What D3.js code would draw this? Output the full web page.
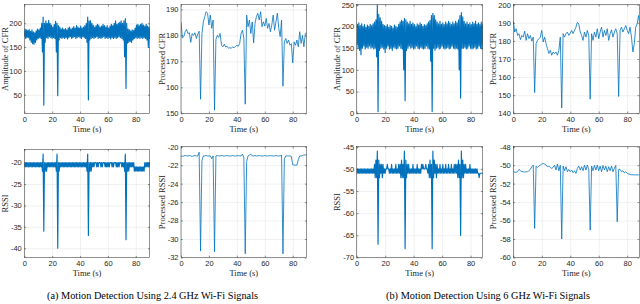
<!DOCTYPE html>
<html>
<head>
<meta charset="utf-8">
<script src="https://d3js.org/d3.v7.min.js"></script>
<style>
  body { margin: 0; background: #fff; }
  svg { display: block; font-family: "Liberation Serif", "Times New Roman", serif; }
  .tick text { font-size: 7.5px; fill: #262626; }
  .tick line { stroke: #262626; stroke-width: 0.5; }
  .grid line { stroke: #e2e2e2; stroke-width: 0.5; }
  .grid path, .axis path { stroke: none; }
</style>
</head>
<body>
<svg id="chart" width="640" height="304"></svg>
<script>
// one sample per second, 0..90 s
var time = d3.range(0, 91);
var timeTicks = [0, 20, 40, 60, 80];

// ---- (a) 2.4 GHz ----
// raw CFR is a dense band, read as lower / upper edge for every second
var cfr24Lo = [172,168,170,170,165,160,157,156,160,165,
               168,170,168,140,28,160,170,168,172,170,
               168,170,168,140,48,165,170,168,170,168,
               170,167,170,172,168,170,172,168,170,172,
               170,168,172,170,168,160,39,165,168,170,
               168,170,172,168,170,168,170,172,168,170,
               168,170,167,170,168,170,168,170,172,170,
               168,165,130,63,158,160,162,160,165,168,
               170,168,170,168,170,168,170,168,165,150,
               168];
var cfr24Hi = [188,186,185,187,183,186,182,180,184,188,
               186,190,200,213,200,205,200,206,200,196,
               192,198,204,200,195,192,188,190,187,189,
               186,190,192,188,190,193,190,195,192,190,
               194,190,192,195,200,213,205,205,200,196,
               192,195,198,196,192,194,198,195,192,195,
               190,194,198,195,200,205,198,200,202,205,
               200,205,210,200,188,186,184,186,185,190,
               196,198,195,198,200,196,194,198,194,192,
               190];
var cfr24Proc = [185,179,179.5,181.4,182.3,180.7,181,177.3,180.7,180,
                 181,178.8,180.5,181.6,155.4,180.7,185.2,187.2,189.1,188.5,
                 184,187.8,182.7,185.9,151.2,178.4,180,179.2,180.7,176.2,
                 175.6,176.6,175.5,175.8,175,175.3,175,175.6,175.2,175.8,
                 176.2,175.8,176.9,180.7,182,178.8,153.5,187.8,183.3,185.9,
                 180.7,185.2,177.1,184.6,187.2,188.5,185.9,189.1,183.3,185.2,
                 183.6,186.5,182.7,184.6,181.4,184,187.8,182,185.2,188.5,
                 182.7,179.5,185.9,160.4,177.5,178.8,176.9,178.2,176.2,176.8,
                 169.4,177.5,176.2,178.2,175.6,181.4,176.9,180,175.6,180.7,
                 181];
var rssi24Lo = [-21,-21,-21,-21,-21,-21,-21,-21,-21,-21,
                -21,-21,-21,-22,-36,-22,-22,-21,-21,-21,
                -21,-21,-21,-22,-40,-22,-21,-21,-21,-21,
                -21,-21,-21,-21,-21,-21,-21,-21,-21,-21,
                -21,-21,-21,-21,-21,-22,-37,-22,-22,-21,
                -21,-20,-21,-21,-20,-21,-21,-20,-21,-21,
                -21,-21,-20,-21,-21,-20,-21,-21,-21,-20,
                -21,-21,-22,-38,-22,-22,-21,-21,-21,-22,
                -22,-22,-22,-22,-22,-22,-22,-21,-21,-21,
                -21];
var rssi24Hi = [-20,-20,-20,-20,-20,-20,-20,-20,-20,-20,
                -20,-20,-20,-18,-20,-20,-20,-20,-20,-20,
                -20,-20,-20,-18,-20,-20,-20,-20,-20,-20,
                -20,-20,-20,-20,-20,-20,-20,-20,-20,-20,
                -20,-20,-20,-20,-20,-18,-20,-20,-20,-20,
                -20,-20,-20,-20,-20,-20,-20,-20,-20,-20,
                -20,-20,-20,-20,-20,-20,-20,-20,-20,-20,
                -20,-20,-18,-20,-20,-20,-20,-20,-20,-21,
                -21,-21,-21,-21,-21,-21,-20,-20,-20,-20,
                -20];
var rssi24Proc = [-21,-21.05,-21,-20.95,-21,-21,-20.95,-21,-21.05,-21,
                  -20.95,-21,-21,-20.6,-31.3,-21.5,-21,-21,-20.95,-21,
                  -21,-21,-21.3,-21,-31.4,-21,-20.95,-21,-21,-20.95,
                  -21,-21,-21,-20.95,-21,-21,-21,-20.95,-21,-21,
                  -21,-20.95,-21,-21,-20.8,-21.2,-31.6,-21.6,-21,-20.9,
                  -20.8,-21,-21,-20.95,-21,-21,-20.95,-21,-21,-21,
                  -20.95,-21,-21,-21,-20.95,-21,-21,-21,-20.95,-21,
                  -21,-21,-20.9,-31.6,-21.3,-21,-21,-21,-21,-21.05,
                  -21.95,-22,-22,-22,-21.4,-21,-21,-20.95,-20.9,-20.9,
                  -20.85];

// ---- (b) 6 GHz ----
var cfr6Lo = [158,150,145,135,150,155,148,152,150,155,
              150,152,148,150,130,4,145,150,152,148,
              140,150,155,148,150,145,152,150,148,150,
              155,150,148,100,29,145,150,155,150,152,
              148,150,155,150,148,152,150,148,150,155,
              150,148,120,4,150,145,150,152,148,150,
              155,150,148,150,152,148,150,155,150,148,
              150,148,100,35,150,150,152,148,150,155,
              150,148,150,152,148,150,155,150,148,150,
              152];
var cfr6Hi = [205,208,202,206,200,204,198,203,200,205,
              202,206,210,215,250,228,220,212,205,202,
              200,204,198,202,200,196,203,200,198,205,
              210,214,212,218,215,210,206,212,205,208,
              204,200,206,203,208,205,200,204,202,206,
              210,214,225,230,225,215,210,206,212,205,
              208,204,210,206,212,208,204,210,206,212,
              208,215,225,232,222,212,206,210,205,208,
              204,210,206,212,205,208,204,210,206,205,
              208];
var cfr6Proc = [191,184.9,186.7,183,184,180.7,183,182.1,185.4,180.3,
                184,181.2,183,179.9,182.1,151.5,178.5,180.3,181.2,182.1,
                185.8,179.4,182.1,178.5,175.7,173,174.8,172.1,173.9,173,
                173.9,172.1,174.8,182.1,142.9,184,182.1,184,184.9,183,
                184.3,185.8,184,185.8,187.6,190.3,189.4,184.9,183,180.3,
                184.9,182.1,185.8,183,147.8,184,180.3,184.9,182.1,186.7,
                181.2,184.9,187.6,182.1,185.8,183,186.7,180.3,184,186.1,
                182.1,184.9,186.7,184,149.3,185.8,187.6,184.9,186.7,188.5,
                185.8,184,187.6,182.1,173.9,178.5,187.6,189.4,194,188.5,
                190];
var rssi6Lo = [-51,-51,-51,-51,-51,-51,-51,-51,-51,-51,
               -51,-51,-51,-52,-52,-67,-52,-51,-52,-51,
               -51,-50,-50,-51,-51,-51,-51,-51,-51,-51,
               -51,-52,-52,-52,-68,-52,-51,-51,-51,-51,
               -51,-51,-51,-51,-51,-51,-50,-50,-50,-50,
               -51,-52,-52,-68,-52,-51,-52,-51,-51,-51,
               -51,-51,-51,-51,-51,-51,-51,-51,-51,-51,
               -51,-52,-52,-65,-52,-52,-51,-51,-51,-51,
               -51,-51,-51,-51,-51,-51,-52,-51,-51,-51,
               -51];
var rssi6Hi = [-50,-50,-50,-50,-50,-50,-50,-50,-50,-50,
               -50,-50,-49,-48,-46,-48,-49,-49,-49,-50,
               -50,-49,-50,-50,-49,-50,-50,-49,-50,-49,
               -49,-48,-49,-46,-48,-49,-49,-50,-50,-49,
               -50,-50,-49,-50,-50,-49,-49,-50,-49,-50,
               -49,-48,-49,-46,-48,-49,-49,-50,-49,-50,
               -49,-50,-49,-50,-49,-50,-49,-50,-49,-49,
               -49,-48,-49,-46,-48,-49,-49,-50,-50,-49,
               -50,-50,-50,-50,-50,-51,-51,-51,-51,-51,
               -51];
var rssi6Proc = [-50.71,-50.75,-50.78,-50.71,-50.46,-50.6,-50.71,-50.71,-50.75,-50.71,
                 -50.71,-50.6,-50.46,-50.17,-49.99,-56.85,-50.1,-50.24,-50.1,-49.99,
                 -49.88,-49.81,-49.88,-49.99,-50.17,-50.1,-50.24,-50.35,-50.24,-49.99,
                 -50.53,-49.88,-50.6,-50.02,-58.0,-50.1,-50.6,-50.17,-50.71,-50.46,
                 -50.71,-50.53,-50.82,-50.6,-50.89,-50.35,-50.1,-50.53,-50.17,-50.6,
                 -49.99,-50.53,-49.99,-50.46,-57.04,-50.1,-50.6,-50.02,-50.53,-49.99,
                 -50.6,-50.1,-50.71,-50.02,-50.53,-50.1,-50.71,-50.17,-50.6,-50.1,
                 -50.71,-50.35,-50.02,-56.13,-50.46,-50.46,-50.71,-50.6,-50.82,-50.71,
                 -50.89,-50.96,-51.0,-51.04,-51.04,-51.05,-51.05,-51.05,-51.05,-51.05,
                 -51.05];

// dense raw signal: zigzag between lower edge (at t) and upper edge (t + 0.5)
function band(hi, lo) {
  var pts = [];
  time.forEach(function(t, i) {
    pts.push([t, lo[i]]);
    pts.push([t + 0.5, hi[i]]);
  });
  return pts;
}
function trace(v) {
  return time.map(function(t, i) { return [t, v[i]]; });
}

var top1 = [113.3, 4.7], bot1 = [257.5, 146.7];
var panels = [
  {pts: band(cfr24Hi, cfr24Lo), xr: [24.3, 149.7], xMax: 90, yr: top1, yd: [11, 239],
   yt: [50, 100, 150, 200], label: "Amplitude of CFR", lx: 5, lw: 1.15},
  {pts: trace(cfr24Proc), xr: [181, 306.7], xMax: 90, yr: top1, yd: [150, 191.8],
   yt: [150, 160, 170, 180, 190], label: "Processed CFR", lx: 162, lw: 0.8},
  {pts: band(cfr6Hi, cfr6Lo), xr: [356.7, 482.7], xMax: 88.5, yr: top1, yd: [0, 250],
   yt: [0, 50, 100, 150, 200, 250], label: "Amplitude of CFR", lx: 337, lw: 1.15},
  {pts: trace(cfr6Proc), xr: [513.3, 639.3], xMax: 88.5, yr: top1, yd: [140, 200],
   yt: [140, 150, 160, 170, 180, 190, 200], label: "Processed CFR", lx: 493.5, lw: 0.8},
  {pts: band(rssi24Hi, rssi24Lo), xr: [24.3, 149.7], xMax: 90, yr: [257.7, 149.3], yd: [-42.2, -16.9],
   yt: [-40, -35, -30, -25, -20], label: "RSSI", lx: 5, lw: 1.15},
  {pts: trace(rssi24Proc), xr: [181, 306.7], xMax: 90, yr: bot1, yd: [-32, -20],
   yt: [-32, -30, -28, -26, -24, -22, -20], label: "Processed RSSI", lx: 162, lw: 0.8},
  {pts: band(rssi6Hi, rssi6Lo), xr: [356.7, 482.7], xMax: 88.5, yr: bot1, yd: [-70, -45],
   yt: [-70, -65, -60, -55, -50, -45], label: "RSSI", lx: 337, lw: 1.15},
  {pts: trace(rssi6Proc), xr: [513.3, 639.3], xMax: 88.5, yr: bot1, yd: [-60, -48],
   yt: [-60, -58, -56, -54, -52, -50, -48], label: "Processed RSSI", lx: 493.5, lw: 0.8}
];

var svg = d3.select("#chart");
var fmt = function(d) { return String(d); };

panels.forEach(function(p, i) {
  var x = d3.scaleLinear().domain([0, p.xMax]).range(p.xr);
  var y = d3.scaleLinear().domain(p.yd).range(p.yr);
  var w = p.xr[1] - p.xr[0], h = p.yr[0] - p.yr[1];
  var g = svg.append("g");

  // grid
  g.append("g").attr("class", "grid").attr("transform", "translate(0," + p.yr[0] + ")")
    .call(d3.axisBottom(x).tickValues(timeTicks).tickSize(-h).tickFormat(""));
  g.append("g").attr("class", "grid").attr("transform", "translate(" + p.xr[0] + ",0)")
    .call(d3.axisLeft(y).tickValues(p.yt).tickSize(-w).tickFormat(""));

  // signal
  g.append("clipPath").attr("id", "clip" + i).append("rect")
    .attr("x", p.xr[0]).attr("y", p.yr[1]).attr("width", w).attr("height", h);
  g.append("path").datum(p.pts)
    .attr("clip-path", "url(#clip" + i + ")")
    .attr("fill", "none").attr("stroke", "#0072BD")
    .attr("stroke-width", p.lw).attr("stroke-linejoin", "round")
    .attr("d", d3.line().x(function(d) { return x(d[0]); }).y(function(d) { return y(d[1]); }));

  // box with inward ticks
  g.append("rect").attr("x", p.xr[0]).attr("y", p.yr[1]).attr("width", w).attr("height", h)
    .attr("fill", "none").attr("stroke", "#262626").attr("stroke-width", 0.5);
  g.append("g").attr("class", "axis").attr("transform", "translate(0," + p.yr[0] + ")")
    .call(d3.axisBottom(x).tickValues(timeTicks).tickSizeInner(-1.8).tickSizeOuter(0).tickPadding(3).tickFormat(fmt));
  g.append("g").attr("class", "axis").attr("transform", "translate(0," + p.yr[1] + ")")
    .call(d3.axisTop(x).tickValues(timeTicks).tickSizeInner(-1.8).tickSizeOuter(0).tickFormat(""));
  g.append("g").attr("class", "axis").attr("transform", "translate(" + p.xr[0] + ",0)")
    .call(d3.axisLeft(y).tickValues(p.yt).tickSizeInner(-1.8).tickSizeOuter(0).tickPadding(2.5).tickFormat(fmt));
  g.append("g").attr("class", "axis").attr("transform", "translate(" + p.xr[1] + ",0)")
    .call(d3.axisRight(y).tickValues(p.yt).tickSizeInner(-1.8).tickSizeOuter(0).tickFormat(""));

  // axis titles
  g.append("text").attr("x", (p.xr[0] + p.xr[1]) / 2).attr("y", p.yr[0] + 18.5)
    .attr("text-anchor", "middle").style("font-size", "8.5px").attr("fill", "#262626")
    .text("Time (s)");
  g.append("text").attr("transform", "translate(" + p.lx + "," + (p.yr[0] + p.yr[1]) / 2 + ") rotate(-90)")
    .attr("text-anchor", "middle").attr("dy", "0.35em").style("font-size", "8.5px").attr("fill", "#262626")
    .text(p.label);
});

// sub-figure captions
svg.append("text").attr("x", 152.5).attr("y", 299).attr("text-anchor", "middle")
  .style("font-size", "10.3px").text("(a) Motion Detection Using 2.4 GHz Wi-Fi Signals");
svg.append("text").attr("x", 488).attr("y", 299).attr("text-anchor", "middle")
  .style("font-size", "10.3px").text("(b) Motion Detection Using 6 GHz Wi-Fi Signals");
</script>
</body>
</html>
